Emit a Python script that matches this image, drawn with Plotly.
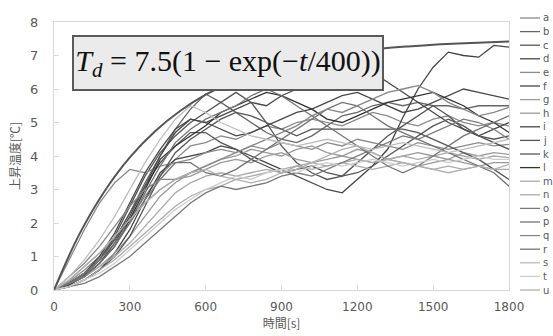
import plotly.graph_objects as go

time_s = [0, 60, 120, 180, 240, 300, 360, 420, 480, 540, 600, 660, 720, 780, 840, 900,
          960, 1020, 1080, 1140, 1200, 1260, 1320, 1380, 1440, 1500, 1560, 1620, 1680, 1740, 1800]

series_names = ["a", "b", "c", "d", "e", "f", "g", "h", "i", "j", "k",
                "l", "m", "n", "o", "p", "q", "r", "s", "t", "u"]

a = [0, 0.25, 0.6, 1.0, 1.5, 2.1, 2.8, 3.4, 3.9, 4.3, 4.4, 4.6, 4.5, 4.7, 4.9, 4.8, 5.0, 5.1, 5.0, 4.9, 5.1, 5.3, 5.2, 5.0, 4.9, 5.1, 5.2, 5.0, 4.9, 5.0, 4.9]
b = [0, 0.2, 0.5, 0.9, 1.5, 2.3, 3.2, 4.0, 4.8, 5.4, 5.85, 5.6, 5.3, 5.0, 4.7, 4.5, 4.4, 4.6, 4.9, 5.2, 5.3, 5.5, 5.6, 5.5, 5.6, 5.5, 5.5, 5.4, 5.5, 5.5, 5.5]
c = [0, 0.15, 0.45, 0.9, 1.6, 2.5, 3.4, 4.1, 4.6, 5.0, 5.3, 5.6, 5.9, 5.6, 5.0, 4.3, 3.8, 3.5, 3.3, 3.4, 3.8, 4.2, 4.6, 4.9, 5.2, 5.5, 5.2, 4.8, 4.6, 4.5, 4.6]
d = [0, 0.1, 0.3, 0.6, 1.1, 1.8, 2.7, 3.5, 3.9, 4.0, 4.1, 4.3, 4.2, 4.0, 3.8, 3.6, 3.4, 3.2, 3.0, 2.9, 3.3, 3.7, 4.2, 5.15, 6.0, 6.65, 7.1, 7.0, 6.95, 7.3, 7.25]
e = [0, 0.9, 1.8, 2.6, 3.2, 3.6, 3.5, 3.7, 3.8, 3.9, 4.1, 4.2, 4.1, 4.3, 4.2, 4.4, 4.3, 4.2, 4.4, 4.3, 4.5, 4.4, 4.3, 4.2, 4.4, 4.3, 4.2, 4.3, 4.4, 4.3, 4.35]
f = [0, 0.2, 0.5, 1.0, 1.7, 2.6, 3.5, 4.2, 4.8, 5.1, 5.0, 5.2, 5.4, 5.6, 5.5, 5.8, 6.0, 6.1, 6.3, 6.4, 6.6, 6.5, 6.2, 5.9, 5.6, 5.3, 5.0, 4.8, 4.6, 4.8, 5.0]
g = [0, 0.2, 0.4, 0.7, 1.1, 1.6, 2.2, 2.8, 3.2, 3.5, 3.7, 3.9, 4.0, 4.2, 4.1, 4.0, 4.2, 4.3, 4.1, 4.0, 4.2, 4.1, 3.9, 4.0, 4.1, 4.0, 3.9, 4.1, 4.0, 4.1, 4.05]
h = [0, 0.3, 0.7, 1.1, 1.6, 2.1, 2.6, 3.0, 3.3, 3.4, 3.6, 3.8, 3.9, 3.8, 4.0, 4.1, 3.9, 3.8, 3.9, 4.0, 3.9, 3.8, 3.9, 3.8, 3.7, 3.8, 3.9, 3.8, 3.7, 3.8, 3.8]
i = [0, 0.15, 0.4, 0.8, 1.4, 2.2, 3.1, 4.0, 4.7, 5.1, 5.0, 4.8, 4.6, 4.7, 4.9, 5.1, 5.3, 5.4, 5.6, 5.8, 5.9, 5.7, 5.5, 5.3, 5.4, 5.6, 5.8, 6.0, 5.9, 5.8, 5.7]
j = [0, 0.2, 0.5, 0.9, 1.5, 2.3, 3.1, 3.8, 4.3, 4.7, 4.7, 4.4, 4.2, 3.9, 3.7, 3.5, 3.6, 3.7, 3.5, 3.4, 3.5, 3.7, 4.0, 4.3, 4.6, 4.9, 5.1, 4.9, 4.6, 4.4, 4.2]
k = [0, 0.1, 0.3, 0.6, 1.0, 1.6, 2.5, 3.4, 4.1, 4.5, 4.8, 5.1, 5.3, 5.2, 5.0, 4.8, 4.6, 4.8, 4.8, 4.8, 4.8, 4.8, 4.8, 4.8, 4.7, 4.5, 4.3, 4.1, 3.9, 3.6, 3.3]
l = [0, 0.2, 0.4, 0.8, 1.3, 2.1, 3.0, 3.9, 4.3, 4.6, 4.9, 5.3, 5.5, 5.7, 5.9, 5.8, 5.6, 5.4, 5.1, 5.0, 5.2, 5.4, 5.6, 5.7, 5.8, 5.9, 5.7, 5.5, 5.2, 5.0, 4.7]
m = [0, 0.1, 0.3, 0.6, 0.9, 1.3, 1.7, 2.1, 2.5, 2.8, 3.0, 3.1, 3.3, 3.4, 3.5, 3.6, 3.7, 3.8, 3.7, 3.8, 3.9, 3.8, 3.9, 4.0, 3.9, 4.0, 4.1, 4.0, 3.9, 4.0, 3.95]
n = [0, 0.2, 0.4, 0.7, 1.0, 1.4, 1.9, 2.4, 2.9, 3.2, 3.4, 3.5, 3.4, 3.5, 3.6, 3.5, 3.7, 3.6, 3.7, 3.8, 3.7, 3.6, 3.7, 3.8, 3.7, 3.6, 3.7, 3.6, 3.7, 3.6, 3.6]
o = [0, 0.1, 0.2, 0.4, 0.7, 1.0, 1.4, 1.8, 2.2, 2.6, 2.9, 3.1, 3.0, 3.1, 3.2, 3.4, 3.5, 3.4, 3.6, 3.8, 4.0, 4.2, 4.4, 4.6, 4.5, 4.7, 4.9, 5.1, 5.0, 4.8, 4.5]
p = [0, 0.2, 0.5, 0.9, 1.4, 2.0, 2.7, 3.3, 3.8, 3.8, 3.5, 3.4, 3.6, 3.9, 4.2, 4.5, 4.8, 5.1, 5.4, 5.6, 5.5, 5.2, 4.9, 4.7, 4.5, 4.3, 4.1, 3.9, 3.7, 3.5, 3.1]
q = [0, 0.4, 0.8, 1.3, 1.9, 2.5, 3.0, 3.3, 3.3, 3.5, 3.7, 3.9, 4.1, 4.3, 4.5, 4.7, 4.9, 5.2, 5.4, 5.3, 5.5, 5.7, 5.9, 6.0, 6.1, 5.9, 5.6, 5.4, 5.2, 5.3, 5.45]
r = [0, 0.2, 0.4, 0.8, 1.3, 2.0, 2.9, 3.7, 4.4, 4.8, 5.1, 5.3, 5.5, 5.8, 6.0, 5.8, 5.5, 5.2, 4.9, 4.6, 4.3, 4.0, 3.7, 3.5, 3.7, 4.0, 4.3, 4.6, 4.8, 5.0, 5.2]
s = [0, 0.4, 0.9, 1.5, 2.2, 3.0, 3.8, 4.5, 5.1, 5.5, 5.3, 5.0, 4.8, 4.6, 4.5, 4.4, 4.3, 4.4, 4.5, 4.4, 4.3, 4.2, 4.3, 4.4, 4.3, 4.2, 4.1, 4.2, 4.3, 4.4, 4.5]
t = [0, 0.1, 0.3, 0.5, 0.8, 1.2, 1.6, 2.0, 2.4, 2.7, 3.0, 3.2, 3.4, 3.3, 3.5, 3.6, 3.5, 3.7, 3.8, 3.7, 3.8, 3.9, 3.8, 3.7, 3.8, 3.9, 3.8, 3.9, 4.0, 3.9, 3.9]
u = [0, 0.3, 0.7, 1.1, 1.6, 2.1, 2.6, 3.0, 3.3, 3.5, 3.6, 3.4, 3.3, 3.2, 3.3, 3.5, 3.6, 3.8, 4.0, 4.2, 4.3, 4.1, 3.9, 3.8, 3.7, 3.6, 3.5, 3.6, 3.7, 3.6, 3.75]

series_values = [a, b, c, d, e, f, g, h, i, j, k, l, m, n, o, p, q, r, s, t, u]
series_colors = ["#8a8a8a", "#666666", "#555555", "#444444", "#8c8c8c", "#474747", "#9a9a9a",
                 "#9a9a9a", "#474747", "#555555", "#555555", "#333333", "#ababab", "#ababab",
                 "#7a7a7a", "#747474", "#888888", "#737373", "#bdbdbd", "#cccccc", "#b0b0b0"]

fit_time = [0, 100, 200, 300, 400, 500, 600, 700, 800, 900, 1000, 1100, 1200, 1300, 1400, 1500, 1600, 1700, 1800]
fit_temp = [0, 1.66, 2.95, 3.96, 4.74, 5.35, 5.83, 6.20, 6.49, 6.71, 6.88, 7.02, 7.13, 7.21, 7.27, 7.32, 7.36, 7.39, 7.42]

fig = go.Figure()
for name, vals, col in zip(series_names, series_values, series_colors):
    fig.add_trace(go.Scatter(x=time_s, y=vals, mode="lines", name=name,
                             line=dict(color=col, width=1.3), showlegend=False))
fig.add_trace(go.Scatter(x=fit_time, y=fit_temp, mode="lines", line_shape="spline",
                         line=dict(color="#555555", width=2), showlegend=False))

# plot geometry (pixels)
W, H = 553, 336
L, R, T, B = 54, 509, 22, 290
pw, ph = R - L, B - T

shapes = []
annotations = []
# custom legend
for idx, (name, col) in enumerate(zip(series_names, series_colors)):
    ypx = 18 + idx * 13.6
    yp = (B - ypx) / ph
    shapes.append(dict(type="line", xref="paper", yref="paper",
                       x0=(520 - L) / pw, x1=(540 - L) / pw, y0=yp, y1=yp,
                       line=dict(color=col, width=1.3)))
    annotations.append(dict(xref="paper", yref="paper", x=(541 - L) / pw, y=yp,
                            xanchor="left", yanchor="middle", text=name, showarrow=False,
                            font=dict(family="DejaVu Sans", size=10, color="#595959")))

# formula box
annotations.append(dict(xref="paper", yref="paper", x=(228 - L) / pw, y=(B - 63.5) / ph,
                        xanchor="center", yanchor="middle",
                        text="<i>T</i><sub><i>d</i></sub> = 7.5(1 − exp(−<i>t</i>/400))",
                        showarrow=False, width=306, height=50,
                        bgcolor="#ebebeb", bordercolor="#5a5a5a", borderwidth=2,
                        font=dict(family="Liberation Serif", size=30, color="#111111")))

fig.update_layout(
    width=W, height=H,
    margin=dict(l=L, r=W - R, t=T, b=H - B),
    paper_bgcolor="white", plot_bgcolor="white",
    shapes=shapes, annotations=annotations,
    showlegend=False,
)
fig.update_xaxes(range=[0, 1800], tickvals=[0, 300, 600, 900, 1200, 1500, 1800],
                 showgrid=False, zeroline=False, showline=True, linecolor="#d9d9d9",
                 linewidth=1, mirror=True, ticks="inside", ticklen=5, tickcolor="#d9d9d9",
                 tickfont=dict(family="DejaVu Sans", size=12, color="#595959"),
                 ticklabelstandoff=6,
                 title=dict(text="時間[s]", standoff=2,
                            font=dict(family="Noto Sans CJK JP", size=12, color="#595959")))
fig.update_yaxes(range=[0, 8], tickvals=[0, 1, 2, 3, 4, 5, 6, 7, 8],
                 showgrid=False, zeroline=False, showline=True, linecolor="#d9d9d9",
                 linewidth=1, mirror=True, ticks="inside", ticklen=5, tickcolor="#d9d9d9",
                 tickfont=dict(family="DejaVu Sans", size=13, color="#595959"),
                 ticklabelstandoff=12,
                 title=dict(text="上昇温度[℃]", standoff=6,
                            font=dict(family="Noto Sans CJK JP", size=12, color="#595959")))

fig.write_html("out.html")
